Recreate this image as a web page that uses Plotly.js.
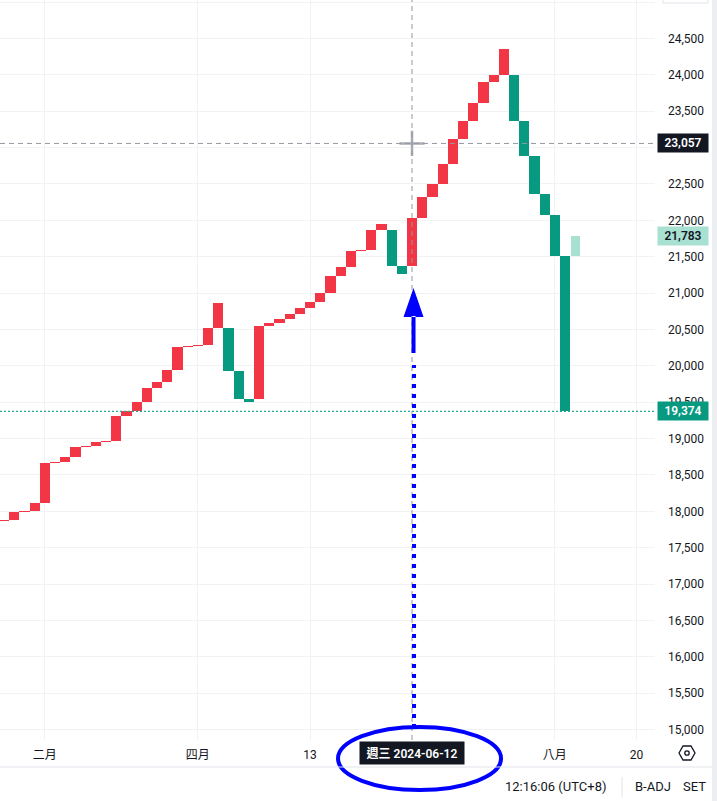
<!DOCTYPE html>
<html>
<head>
<meta charset="utf-8">
<script src="https://cdn.plot.ly/plotly-3.0.1.min.js"></script>
<style>
  html, body { margin: 0; padding: 0; background: #ffffff; }
  #chart { width: 717px; height: 801px; }
</style>
</head>
<body>
<div id="chart"></div>
<script>
// ============================================
// LINE BREAK CHART - boxes
// ============================================

// open / close of each box, left to right
const boxOpen = [
    17866, 17887, 17990, 18003, 18114, 18664, 18678, 18746, 18884, 18898,
    18953, 18966, 19310, 19379, 19502, 19695, 19777, 19942, 20259, 20272,
    20286, 20520, 20520, 19929, 19544, 19544, 20547, 20588, 20644, 20712,
    20795, 20877, 21001, 21235, 21358, 21579, 21592, 21867, 21867, 21372,
    21372, 22032, 22314, 22500, 22775, 23118, 23366, 23613, 23902, 23998,
    23998, 23366, 22884, 22362, 22080, 21510
];
const boxClose = [
    17887, 17990, 18003, 18114, 18664, 18678, 18746, 18884, 18898, 18953,
    18966, 19310, 19379, 19502, 19695, 19777, 19942, 20259, 20272, 20286,
    20520, 20864, 19929, 19544, 19502, 20547, 20588, 20644, 20712, 20795,
    20877, 21001, 21235, 21358, 21579, 21592, 21867, 21950, 21372, 21269,
    22032, 22314, 22500, 22775, 23118, 23366, 23613, 23902, 23998, 24356,
    23366, 22884, 22362, 22080, 21510, 19374
];
// faded box at the end (not confirmed yet)
const pendingOpen = 21510;
const pendingClose = 21783;

const lastPrice = 19374;
const crosshairPrice = 23057;
const crosshairBox = 41;
const crosshairDate = '週三 2024-06-12';

const timeTickPos = [5, 20, 31, 55, 63];
const timeTickText = ['二月', '四月', '13', '八月', '20'];
const priceTicks = [15000, 15500, 16000, 16500, 17000, 17500, 18000, 18500, 19000, 19500,
                    20000, 20500, 21000, 21500, 22000, 22500, 23000, 23500, 24000, 24500, 25000];
// labels hidden in the picture (under the crosshair tag / off the top)
const hiddenTicks = [23000, 25000];

const UP = '#f23645', DOWN = '#089981', PENDING = '#a8e0d2';
const TXT = '#131722', GRID = '#f0f2f5', BORDER = '#e0e3eb';
const FONT = "Roboto, 'Noto Sans CJK TC', sans-serif";

// plot area is 655 x 740, helpers for the chrome around it
const W = 655, H = 740;
const px = (x) => x / W;
const py = (y) => (H - y) / H;

const boxIndex = boxOpen.map((_, i) => i + 1);

const data = [
    {
        type: 'bar',
        x: boxIndex,
        base: boxOpen.map((o, i) => Math.min(o, boxClose[i])),
        y: boxOpen.map((o, i) => Math.abs(boxClose[i] - o)),
        width: 1,
        marker: {
            color: boxOpen.map((o, i) => boxClose[i] > o ? UP : DOWN),
            line: { width: 0 }
        },
        hoverinfo: 'skip'
    },
    {
        type: 'bar',
        x: [boxOpen.length + 1],
        base: [pendingOpen],
        y: [pendingClose - pendingOpen],
        width: 0.9,
        marker: { color: PENDING, line: { width: 0 } },
        hoverinfo: 'skip'
    },
    {
        // crosshair centre
        type: 'scatter',
        mode: 'markers',
        x: [crosshairBox],
        y: [crosshairPrice],
        marker: { symbol: 'cross-thin-open', size: 18, color: '#a9acb4', line: { width: 2.5, color: '#a9acb4' } },
        hoverinfo: 'skip'
    }
];

const priceTag = (v, bg, fg) => ({
    xref: 'paper', x: 1, xanchor: 'left', xshift: 2,
    yref: 'y', y: v, yanchor: 'middle',
    text: v.toLocaleString('en-US'),
    showarrow: false,
    bgcolor: bg, borderpad: 2, width: 46, height: 14,
    font: { family: FONT, size: 12, color: fg, weight: 600 }
});

const chromeText = (text, x, y, anchor) => ({
    xref: 'paper', x: px(x), xanchor: anchor || 'left',
    yref: 'paper', y: py(y), yanchor: 'middle',
    text: text, showarrow: false,
    font: { family: FONT, size: 13, color: TXT }
});

const layout = {
    width: 717,
    height: 801,
    margin: { l: 0, r: 62, t: 0, b: 61 },
    paper_bgcolor: '#ffffff',
    plot_bgcolor: '#ffffff',
    showlegend: false,
    barmode: 'overlay',
    bargap: 0,
    font: { family: FONT, size: 12, color: TXT },
    xaxis: {
        range: [0.608, 64.82],
        tickvals: timeTickPos,
        ticktext: timeTickText,
        ticks: '',
        ticklabelstandoff: 6,
        tickfont: { family: FONT, size: 12, color: TXT },
        showgrid: true,
        gridcolor: GRID,
        zeroline: false,
        showline: false,
        fixedrange: true
    },
    yaxis: {
        side: 'right',
        range: [14856, 25029],
        tickvals: priceTicks,
        ticktext: priceTicks.map(v => hiddenTicks.includes(v) ? '' : v.toLocaleString('en-US')),
        ticks: '',
        ticklabelstandoff: 12,
        tickfont: { family: FONT, size: 12, color: TXT },
        showgrid: true,
        gridcolor: GRID,
        zeroline: false,
        showline: false,
        fixedrange: true
    },
    shapes: [
        // crosshair
        { type: 'line', xref: 'x', x0: crosshairBox, x1: crosshairBox, yref: 'paper', y0: 0, y1: 1,
          line: { color: '#9598a1', width: 1, dash: '5px,4px' }, layer: 'above' },
        { type: 'line', xref: 'paper', x0: 0, x1: 1, yref: 'y', y0: crosshairPrice, y1: crosshairPrice,
          line: { color: '#9598a1', width: 1, dash: '5px,4px' }, layer: 'above' },
        // last price line
        { type: 'line', xref: 'paper', x0: 0, x1: 1, yref: 'y', y0: lastPrice, y1: lastPrice,
          line: { color: '#22ab94', width: 1.3, dash: '2px,2px' }, layer: 'above' },
        // blue dotted pointer + arrow
        { type: 'line', xref: 'x', xsizemode: 'pixel', xanchor: crosshairBox, x0: 2, x1: 2,
          yref: 'paper', ysizemode: 'pixel', yanchor: 0, y0: 12, y1: 375,
          line: { color: '#0000ff', width: 4, dash: '4px,6px' }, layer: 'above' },
        { type: 'path', xref: 'x', xsizemode: 'pixel', xanchor: crosshairBox,
          yref: 'paper', ysizemode: 'pixel', yanchor: 0,
          path: 'M -8.5,423 L 1.5,452 L 11.5,423 Z M -0.5,387 L 3.5,387 L 3.5,424 L -0.5,424 Z',
          fillcolor: '#0000ff', line: { width: 0 }, layer: 'above' },
        // blue ellipse round the date
        { type: 'circle', xref: 'x', xsizemode: 'pixel', xanchor: crosshairBox, x0: -74, x1: 89,
          yref: 'paper', ysizemode: 'pixel', yanchor: 0, y0: 13, y1: -50,
          line: { color: '#0000ff', width: 4 }, layer: 'above' },
        // separators of the bottom bar
        { type: 'line', xref: 'paper', x0: 0, x1: px(712), yref: 'paper', y0: py(767), y1: py(767),
          line: { color: BORDER, width: 1 } },
        { type: 'line', xref: 'paper', x0: px(622), x1: px(622), yref: 'paper', y0: py(777), y1: py(797),
          line: { color: BORDER, width: 1 } },
        // right edge strip
        { type: 'rect', xref: 'paper', x0: px(712), x1: px(717), yref: 'paper', y0: py(0), y1: py(801),
          fillcolor: '#eceef2', line: { width: 0 } },
        // button edge top right
        { type: 'rect', xref: 'paper', x0: px(663), x1: px(708), yref: 'paper', y0: py(-12), y1: py(3),
          fillcolor: '#ffffff', line: { color: BORDER, width: 1 } },
        // settings icon
        { type: 'path', xref: 'paper', xsizemode: 'pixel', xanchor: px(687),
          yref: 'paper', ysizemode: 'pixel', yanchor: py(753),
          path: 'M -8,0 L -4,7 L 4,7 L 8,0 L 4,-7 L -4,-7 Z',
          line: { color: TXT, width: 1.3 } },
        { type: 'circle', xref: 'paper', xsizemode: 'pixel', xanchor: px(687), x0: -2.2, x1: 2.2,
          yref: 'paper', ysizemode: 'pixel', yanchor: py(753), y0: -2.2, y1: 2.2,
          line: { color: TXT, width: 1.3 } }
    ],
    annotations: [
        priceTag(crosshairPrice, TXT, '#ffffff'),
        priceTag(pendingClose, PENDING, TXT),
        priceTag(lastPrice, DOWN, '#ffffff'),
        {
            xref: 'x', x: crosshairBox, xanchor: 'center',
            yref: 'paper', y: 0, yanchor: 'top', yshift: -1,
            text: crosshairDate, showarrow: false,
            bgcolor: TXT, borderpad: 2, width: 100, height: 18,
            font: { family: FONT, size: 12, color: '#ffffff', weight: 600 }
        },
        chromeText('12:16:06 (UTC+8)', 503, 787),
        chromeText('B-ADJ', 633, 787),
        chromeText('SET', 681, 787)
    ]
};

const config = { responsive: false, displayModeBar: false, staticPlot: true };

Plotly.newPlot('chart', data, layout, config);
</script>
</body>
</html>
